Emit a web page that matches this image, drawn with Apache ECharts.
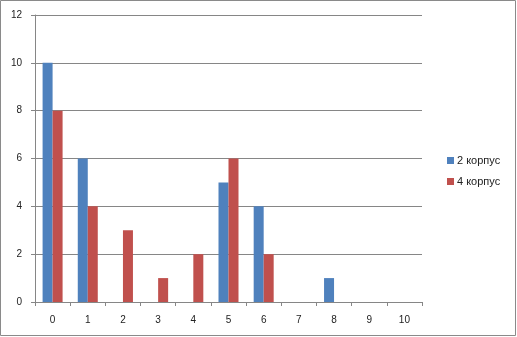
<!DOCTYPE html>
<html><head><meta charset="utf-8">
<script src="https://cdn.jsdelivr.net/npm/echarts@6/dist/echarts.min.js"></script>
<style>html,body{margin:0;padding:0;background:#fff}#c{width:517px;height:337px}</style>
</head><body><div id="c"></div>
<script>
const categories = ['0','1','2','3','4','5','6','7','8','9','10'];
const series2 = [10, 6, 0, 0, 0, 5, 4, 0, 1, 0, 0];
const series4 = [8, 4, 3, 1, 2, 6, 2, 0, 0, 0, 0];
const seriesNames = ['2 корпус', '4 корпус'];
const yTicks = [0, 2, 4, 6, 8, 10, 12];

const chart = echarts.init(document.getElementById('c'), null, {renderer: 'canvas'});
const font = 'Liberation Sans, Arial, sans-serif';
chart.setOption({
  animation: false,
  color: ['#4F81BD', '#C0504D'],
  graphic: [{type: 'rect', shape: {x: 0.5, y: 0.5, width: 515, height: 335},
    style: {fill: 'none', stroke: '#8a8a8a', lineWidth: 1}, silent: true}],
  grid: {left: 35, top: 15, right: 95, bottom: 35, containLabel: false},
  legend: {
    orient: 'vertical', left: 442, top: 150, itemWidth: 7, itemHeight: 7, itemGap: 10,
    icon: 'rect', textStyle: {fontFamily: font, fontSize: 11, color: '#222', padding: [0, 0, 0, -2]},
    data: seriesNames
  },
  xAxis: {
    type: 'category', data: categories,
    axisLine: {lineStyle: {color: '#868686'}},
    axisTick: {show: true, alignWithLabel: false, length: 4, lineStyle: {color: '#868686'}},
    axisLabel: {fontFamily: font, fontSize: 10, color: '#222', margin: 13}
  },
  yAxis: {
    type: 'value', min: yTicks[0], max: yTicks[yTicks.length - 1], interval: 2,
    axisLine: {show: true, lineStyle: {color: '#868686'}},
    axisTick: {show: true, length: 4, lineStyle: {color: '#868686'}},
    splitLine: {lineStyle: {color: '#868686'}},
    axisLabel: {fontFamily: font, fontSize: 10, color: '#222', margin: 13}
  },
  series: [
    {name: seriesNames[0], type: 'bar', data: series2, barWidth: 10, barGap: '0%'},
    {name: seriesNames[1], type: 'bar', data: series4, barWidth: 10, barGap: '0%'}
  ]
});
</script></body></html>
